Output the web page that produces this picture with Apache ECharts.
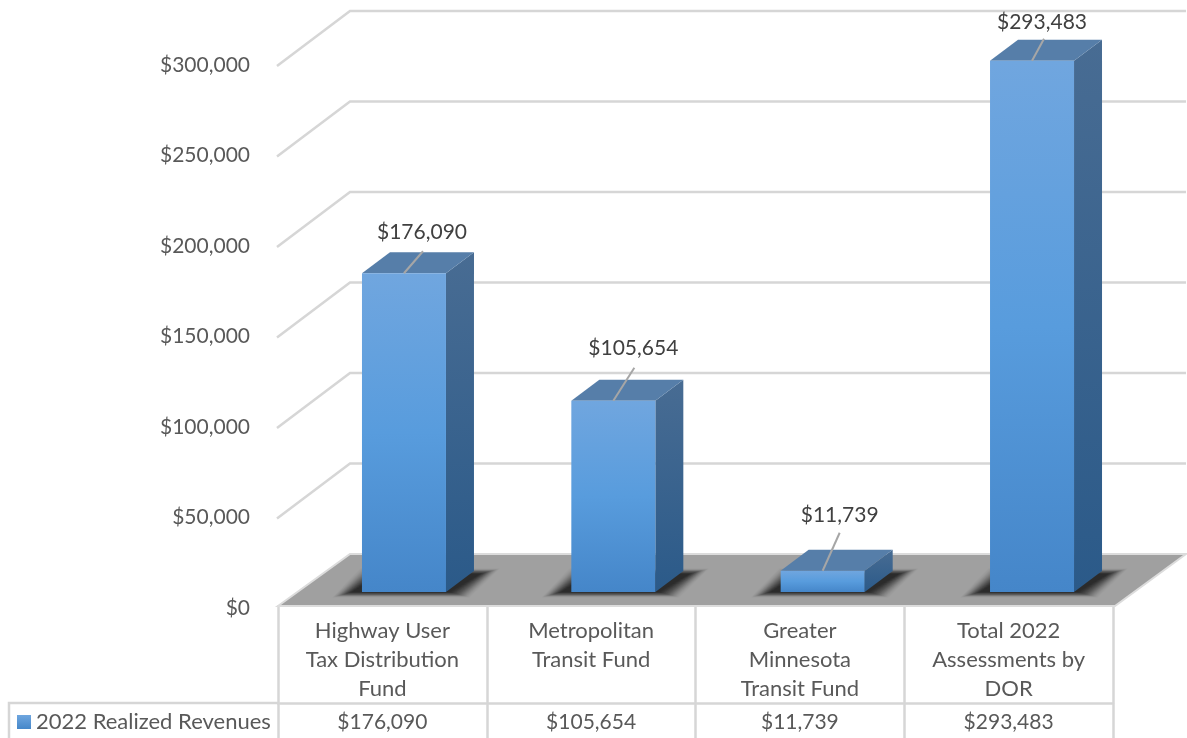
<!DOCTYPE html>
<html>
<head>
<meta charset="utf-8">
<style>html,body{margin:0;padding:0;background:#fff}#c{width:1187px;height:738px}</style>
<script src="https://cdn.jsdelivr.net/npm/echarts@6/dist/echarts.min.js"></script>
</head>
<body>
<div id="c"></div>
<script>
const categories = ['Highway User\nTax Distribution\nFund', 'Metropolitan\nTransit Fund\n ', 'Greater\nMinnesota\nTransit Fund', 'Total 2022\nAssessments by\nDOR'];
const revenues = [176090, 105654, 11739, 293483];
const seriesName = '2022 Realized Revenues';
const gridTicks = [50000, 100000, 150000, 200000, 250000, 300000];

// leader line end and label centre, relative to the bar's top-front centre
const leaderEnd = [[19, -22], [21, -33], [17, -38], [12, -22]];
const labelAt = [[18, -41], [20, -53], [17, -56], [10, -39]];

const FONT = 'Lato, "Open Sans", sans-serif';
const fmt = v => '$' + v.toLocaleString('en-US');
const DX = 72, DY = -52;            // depth of the whole chart floor
const BDX = 28, BDY = -21;          // depth of one bar
const BW = 84, BSHIFT_X = 21.6, BSHIFT_Y = -14, BSTEP = 0.6;
const LINE = '#d6d6d6';
const vgrad = (a, b) => new echarts.graphic.LinearGradient(0, 0, 0, 1, [{offset: 0, color: a}, {offset: 1, color: b}]);

function renderGrid(params, api) {
  const c = api.coord([0, api.value(0)]);
  const s = params.coordSys;
  return {type: 'polyline', silent: true,
    shape: {points: [[s.x - 1, c[1] + 3], [s.x + DX, c[1] + DY], [s.x + s.width + DX + 1, c[1] + DY]]},
    style: {stroke: LINE, lineWidth: 2.5, fill: null}};
}
function renderFloor(params, api) {
  const y = api.coord([0, 0])[1];
  const s = params.coordSys;
  return {type: 'polygon', silent: true,
    shape: {points: [[s.x, y], [s.x + DX, y + DY], [s.x + s.width + DX + 1, y + DY], [s.x + s.width + 2, y]]},
    style: {fill: '#a0a0a0', stroke: '#dcdcdc', lineWidth: 2}};
}
function renderShadow(params, api) {
  const i = params.dataIndex;
  const p = api.coord([i, 0]);
  const l = p[0] + BSHIFT_X + i * BSTEP - BW / 2, y = p[1] + BSHIFT_Y;
  // soft shadow made of stacked translucent layers, outermost first
  const children = [];
  const spread = 20;
  for (let e = spread; e >= 0; e -= 1) {
    const v = e * 0.27;
    const a = 0.015 + 0.16 * (1 - e / spread);
    children.push({type: 'polygon', silent: true,
      shape: {points: [[l - 10 - e, y + v], [l + BW + 4 + e, y + v],
                       [l + BW + BDX + 6 + e, y + BDY + 3 - v], [l + BDX - 10 - e, y + BDY + 3 - v]]},
      style: {fill: 'rgba(30,30,30,' + a + ')'}});
  }
  return {type: 'group', children};
}
function renderBar(params, api) {
  const i = params.dataIndex;
  const v = api.value(1);
  const p0 = api.coord([i, 0]), p1 = api.coord([i, v]);
  const l = p0[0] + BSHIFT_X + i * BSTEP - BW / 2, r = l + BW;
  const b = p0[1] + BSHIFT_Y, t = p1[1] + BSHIFT_Y;
  const cx = (l + r) / 2;
  const le = leaderEnd[i], la = labelAt[i];
  return {type: 'group', children: [
    {type: 'polygon', shape: {points: [[r, t], [r + BDX, t + BDY], [r + BDX, b + BDY], [r, b]]},
      style: {fill: vgrad('#486c93', '#2b5a89')}},
    {type: 'polygon', shape: {points: [[l, t], [r, t], [r + BDX, t + BDY], [l + BDX, t + BDY]]},
      style: {fill: '#567ea9'}},
    {type: 'rect', shape: {x: l, y: t, width: BW, height: b - t},
      style: {fill: new echarts.graphic.LinearGradient(0, 0, 0, 1, [
        {offset: 0, color: '#70a6df'}, {offset: 0.5, color: '#589cdd'}, {offset: 1, color: '#4586c9'}])}},
    {type: 'line', shape: {x1: cx, y1: t, x2: cx + le[0], y2: t + le[1]},
      style: {stroke: '#a6a6a6', lineWidth: 2}},
    {type: 'text', style: {text: fmt(v), x: cx + la[0], y: t + la[1], fill: '#404040',
      font: '21px ' + FONT, textAlign: 'center', textVerticalAlign: 'middle'}}
  ]};
}

const chart = echarts.init(document.getElementById('c'), null, {renderer: 'canvas'});
chart.setOption({
  animation: false,
  backgroundColor: '#fff',
  grid: {left: 278, right: 74, top: 63, bottom: 132},
  legend: {
    left: 17, top: 711, padding: 0, itemWidth: 14, itemHeight: 14, itemGap: 6,
    textStyle: {fontFamily: FONT, fontSize: 22, color: '#595959'},
    data: [{name: seriesName, icon: 'rect', itemStyle: {color: vgrad('#6fa6df', '#4587c9')}}]
  },
  graphic: [
    {type: 'polyline', silent: true, shape: {points: [[9, 738], [9, 703], [278, 703]]},
     style: {stroke: LINE, lineWidth: 2.5, fill: null}}
  ],
  xAxis: [
    {type: 'category', data: categories, position: 'bottom',
     axisLine: {show: true, lineStyle: {color: '#dcdcdc', width: 2}},
     axisTick: {show: true, length: 132, lineStyle: {color: LINE, width: 2.5}},
     axisLabel: {color: '#595959', fontFamily: FONT, fontSize: 22, lineHeight: 29, margin: 10, interval: 0, verticalAlign: 'top'}},
    {type: 'category', data: revenues.map(fmt), position: 'bottom', offset: 97,
     axisLine: {show: true, lineStyle: {color: LINE, width: 2.5}},
     axisTick: {show: false},
     axisLabel: {color: '#595959', fontFamily: FONT, fontSize: 21, lineHeight: 29, margin: 5, interval: 0, verticalAlign: 'top'}}
  ],
  yAxis: {type: 'value', min: 0, max: 300000, interval: 50000,
    axisLine: {show: false}, axisTick: {show: false}, splitLine: {show: false},
    axisLabel: {color: '#595959', fontFamily: FONT, fontSize: 21, margin: 28, verticalAlign: 'top', lineHeight: 4, formatter: fmt}},
  series: [
    {type: 'custom', name: 'grid', renderItem: renderGrid, data: gridTicks.map(v => [v]), encode: {y: 0}, silent: true, z: 1},
    {type: 'custom', name: 'floor', renderItem: renderFloor, data: [[0]], encode: {y: 0}, silent: true, z: 2},
    {type: 'custom', name: 'shadow', renderItem: renderShadow, data: revenues.map((v, i) => [i, v]), encode: {x: 0, y: 1}, silent: true, z: 3},
    {type: 'custom', name: seriesName, renderItem: renderBar, data: revenues.map((v, i) => [i, v]), encode: {x: 0, y: 1}, z: 4}
  ]
});
</script>
</body>
</html>
